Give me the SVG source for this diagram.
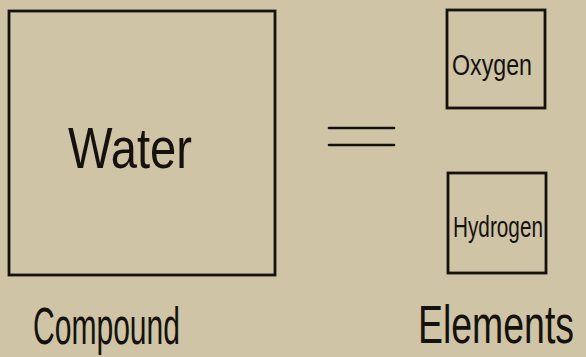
<svg xmlns="http://www.w3.org/2000/svg" width="586" height="357" viewBox="0 0 586 357">
<style>
.box{fill:none;stroke:#15120e;stroke-width:2.8}
.lbl{font-family:"Liberation Sans","DejaVu Sans",sans-serif;fill:#15120e}
.eq{stroke:#15120e;stroke-width:2.6;stroke-linecap:round}
</style>
<rect width="586" height="357" fill="#cfc4a6"/>
<g id="water">
<rect class="box" x="9" y="11" width="266" height="264"/>
<text class="lbl" x="68" y="168" font-size="58" textLength="124" lengthAdjust="spacingAndGlyphs">Water</text>
</g>
<g id="connectors">
<line class="eq" x1="329" y1="128" x2="394" y2="128"/>
<line class="eq" x1="329" y1="145" x2="394" y2="145"/>
</g>
<g id="oxygen">
<rect class="box" x="447" y="10" width="98" height="98"/>
<text class="lbl" x="452" y="75" font-size="30" textLength="80" lengthAdjust="spacingAndGlyphs">Oxygen</text>
</g>
<g id="hydrogen">
<rect class="box" x="448" y="173" width="98" height="100"/>
<text class="lbl" x="453" y="237" font-size="30" textLength="90" lengthAdjust="spacingAndGlyphs">Hydrogen</text>
</g>
<g id="compound">
<text class="lbl" x="33" y="344" font-size="52" textLength="147" lengthAdjust="spacingAndGlyphs">Compound</text>
</g>
<g id="elements">
<text class="lbl" transform="translate(418,343) scale(1,1.5)" x="0" y="0" font-size="36" textLength="156" lengthAdjust="spacingAndGlyphs">Elements</text>
</g>
</svg>
